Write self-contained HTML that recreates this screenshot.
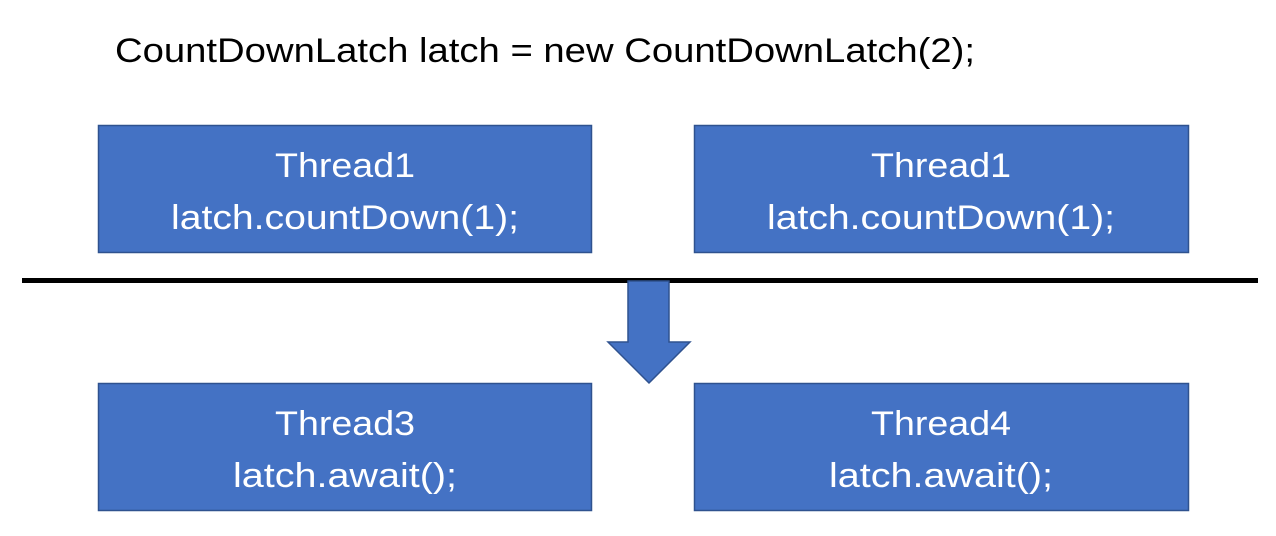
<!DOCTYPE html>
<html><head><meta charset="utf-8"><style>
html,body{margin:0;padding:0;background:#fff;width:1276px;height:536px;overflow:hidden}
text{font-family:"Liberation Sans",sans-serif}
</style></head><body>
<svg width="1276" height="536" viewBox="0 0 1276 536">
<text x="115" y="62" font-size="34" fill="#000" textLength="860" lengthAdjust="spacingAndGlyphs">CountDownLatch latch = new CountDownLatch(2);</text>
<g>
<rect x="98.5" y="125.5" width="493" height="127" fill="#4472C4" stroke="#2F528F" stroke-width="1.5"/>
<text x="345" y="177" font-size="34" fill="#fff" text-anchor="middle" textLength="140" lengthAdjust="spacingAndGlyphs">Thread1</text>
<text x="345" y="229" font-size="34" fill="#fff" text-anchor="middle" textLength="348" lengthAdjust="spacingAndGlyphs">latch.countDown(1);</text>
</g>
<g>
<rect x="694.5" y="125.5" width="494" height="127" fill="#4472C4" stroke="#2F528F" stroke-width="1.5"/>
<text x="941" y="177" font-size="34" fill="#fff" text-anchor="middle" textLength="140" lengthAdjust="spacingAndGlyphs">Thread1</text>
<text x="941" y="229" font-size="34" fill="#fff" text-anchor="middle" textLength="348" lengthAdjust="spacingAndGlyphs">latch.countDown(1);</text>
</g>
<rect x="22" y="278" width="1236" height="5" fill="#000"/>
<polygon points="628,281 669,281 669,342 690,342 649,383 608,342 628,342" fill="#4472C4" stroke="#2F528F" stroke-width="1.5"/>
<g>
<rect x="98.5" y="383.5" width="493" height="127" fill="#4472C4" stroke="#2F528F" stroke-width="1.5"/>
<text x="345" y="435" font-size="34" fill="#fff" text-anchor="middle" textLength="140" lengthAdjust="spacingAndGlyphs">Thread3</text>
<text x="345" y="487" font-size="34" fill="#fff" text-anchor="middle" textLength="224" lengthAdjust="spacingAndGlyphs">latch.await();</text>
</g>
<g>
<rect x="694.5" y="383.5" width="494" height="127" fill="#4472C4" stroke="#2F528F" stroke-width="1.5"/>
<text x="941" y="435" font-size="34" fill="#fff" text-anchor="middle" textLength="140" lengthAdjust="spacingAndGlyphs">Thread4</text>
<text x="941" y="487" font-size="34" fill="#fff" text-anchor="middle" textLength="224" lengthAdjust="spacingAndGlyphs">latch.await();</text>
</g>
</svg>
</body></html>
